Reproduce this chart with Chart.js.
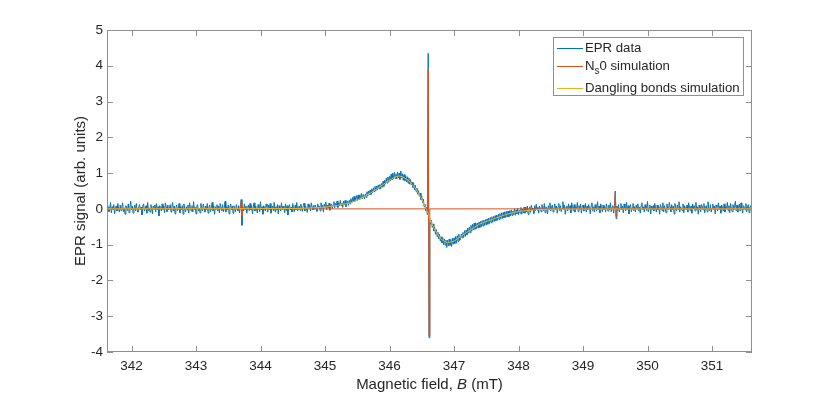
<!DOCTYPE html>
<html>
<head>
<meta charset="utf-8">
<script src="https://cdn.jsdelivr.net/npm/chart.js@4/dist/chart.umd.min.js"></script>
<style>
  html, body { margin: 0; padding: 0; background: #fff; }
  #wrap { position: relative; width: 830px; height: 397px; font-family: 'Liberation Sans', Arial, Helvetica, sans-serif; color: #262626; }
  #xTitle { position: absolute; left: 107px; width: 645px; top: 375px; text-align: center; font-size: 15px; line-height: 18px; }
  #yTitle { position: absolute; left: 80px; top: 191px; font-size: 15px; line-height: 18px; white-space: nowrap; transform: translate(-50%, -50%) rotate(-90deg); }
  #legend { position: absolute; left: 553px; top: 37px; width: 191px; height: 59px; background: #fff; border: 1px solid #8f8f8f; box-sizing: border-box; font-size: 13.2px; }
  .row { position: absolute; left: 0; height: 18px; line-height: 18px; white-space: nowrap; }
  .swatch { position: absolute; left: 3px; top: 9px; width: 26px; height: 0; border-top: 1px solid; }
  .lbl { position: absolute; left: 31px; top: 0; }
  .lbl sub { font-size: 10px; vertical-align: -4px; line-height: 0; }
</style>
</head>
<body>
<div id="wrap">
  <canvas id="chart" width="830" height="397"></canvas>
  <div id="xTitle">Magnetic field, <i>B</i> (mT)</div>
  <div id="yTitle">EPR signal (arb. units)</div>
  <div id="legend"></div>
</div>
<script>
// EPR spectrum: measured data plus two simulated components

// axis settings
const xMin = 341.62;
const xMax = 351.62;
const yMin = -4;
const yMax = 5;
const xTicks = [342, 343, 344, 345, 346, 347, 348, 349, 350, 351];
const yTicks = [-4, -3, -2, -1, 0, 1, 2, 3, 4, 5];

// legend
const seriesNames = ['EPR data', 'N_s0 simulation', 'Dangling bonds simulation'];
const seriesColors = ['#0072BD', '#D95319', '#EDB120'];

// measured spectrum, sampled every 0.0125 mT from 341.60 mT (20 points = 0.25 mT per row)
const eprStart = 341.60;
const eprStep = 0.0125;
const eprSignal = [
  0.09, -0.03, 0.14, 0.05, -0.08, 0.02, 0.18, -0.11, 0.06, -0.02, 0.12, -0.14, 0.03, 0.08, -0.06, 0.15, 0.00, -0.09, 0.11, -0.05,
  0.05, 0.17, -0.08, 0.03, -0.15, 0.09, 0.02, -0.05, 0.14, -0.11, 0.06, 0.21, -0.03, 0.08, -0.12, 0.00, 0.11, -0.06, 0.15, -0.02,
  -0.09, 0.06, 0.12, -0.03, 0.05, -0.17, 0.08, 0.14, -0.06, 0.02, 0.09, -0.12, 0.18, -0.05, 0.03, -0.09, 0.12, 0.06, -0.14, 0.08,
  0.00, 0.11, -0.08, 0.15, -0.03, 0.06, -0.20, 0.09, 0.03, -0.06, 0.14, -0.02, 0.08, -0.11, 0.17, 0.05, -0.08, 0.11, -0.03, 0.02,
  0.12, -0.09, 0.05, 0.18, -0.06, 0.08, -0.14, 0.03, 0.11, -0.05, 0.00, 0.15, -0.11, 0.06, -0.02, 0.09, -0.15, 0.14, 0.02, -0.08,
  0.06, -0.03, 0.11, -0.12, 0.17, 0.03, -0.06, 0.09, -0.09, 0.20, -0.02, 0.05, -0.14, 0.08, 0.12, -0.05, 0.02, -0.11, 0.15, 0.03,
  -0.06, 0.14, 0.02, -0.09, 0.08, -0.03, 0.15, -0.12, 0.05, 0.11, -0.08, 0.03, 0.18, -0.05, 0.09, -0.15, 0.06, 0.00, 0.12, -0.06,
  0.08, -0.11, 0.15, 0.03, -0.05, 0.12, -0.08, 0.02, 0.21, -0.09, 0.06, -0.03, 0.11, -0.14, 0.05, 0.14, -0.02, 0.08, -0.12, 0.09,
  0.03, -0.08, 0.12, 0.02, -0.05, 0.09, -0.11, 0.06, 0.26, -0.46, 0.05, -0.06, 0.14, -0.02, 0.08, -0.12, 0.03, 0.11, -0.05, 0.15,
  -0.03, 0.09, -0.14, 0.05, 0.17, -0.06, 0.08, 0.00, -0.11, 0.12, 0.03, -0.08, 0.20, -0.03, 0.06, -0.15, 0.09, 0.02, -0.06, 0.14,
  0.05, -0.09, 0.11, -0.02, 0.15, -0.12, 0.03, 0.08, -0.05, 0.18, -0.08, 0.06, -0.03, 0.12, -0.14, 0.09, 0.00, -0.06, 0.17, -0.02,
  0.08, 0.02, -0.11, 0.14, -0.05, 0.09, -0.17, 0.06, 0.12, -0.03, 0.05, -0.09, 0.15, 0.00, -0.08, 0.11, -0.02, 0.18, -0.06, 0.03,
  0.08, -0.04, 0.13, 0.04, -0.07, 0.10, 0.16, -0.06, 0.07, 0.01, -0.10, 0.14, 0.02, 0.11, -0.06, 0.17, 0.05, -0.03, 0.10, -0.01,
  0.11, -0.01, -0.07, 0.14, 0.04, 0.08, -0.06, 0.17, 0.02, 0.10, -0.09, 0.13, 0.05, 0.19, -0.03, 0.11, 0.02, 0.16, -0.04, 0.10,
  0.14, 0.01, 0.11, 0.20, 0.03, 0.15, 0.07, 0.22, 0.04, 0.16, 0.08, 0.24, 0.09, 0.16, 0.04, 0.22, 0.11, 0.24, 0.06, 0.18,
  0.22, 0.10, 0.24, 0.14, 0.28, 0.17, 0.32, 0.19, 0.35, 0.21, 0.31, 0.37, 0.23, 0.39, 0.26, 0.39, 0.27, 0.43, 0.29, 0.40,
  0.39, 0.28, 0.42, 0.32, 0.48, 0.36, 0.50, 0.40, 0.53, 0.40, 0.56, 0.45, 0.59, 0.48, 0.63, 0.50, 0.64, 0.53, 0.67, 0.56,
  0.68, 0.56, 0.71, 0.60, 0.77, 0.63, 0.80, 0.69, 0.86, 0.72, 0.89, 0.75, 0.91, 0.78, 0.97, 0.81, 1.00, 0.83, 1.02, 0.85,
  0.98, 0.84, 1.03, 0.86, 1.00, 0.82, 1.06, 0.87, 0.98, 0.80, 0.96, 0.79, 0.93, 0.75, 0.90, 0.72, 0.87, 0.69, 0.82, 0.67,
  0.75, 0.60, 0.71, 0.53, 0.66, 0.48, 0.58, 0.41, 0.51, 0.35, 0.44, 0.26, 0.36, 0.17, 0.27, 0.06, 0.13, -0.06, 0.04, -0.16,
  4.35, -3.60, -0.39, -0.43, -0.31, -0.52, -0.42, -0.62, -0.51, -0.71, -0.58, -0.77, -0.65, -0.84, -0.71, -0.90, -0.78, -0.95, -0.81, -1.00,
  -0.84, -1.01, -0.87, -1.08, -0.88, -1.03, -0.84, -1.02, -0.86, -1.05, -0.82, -0.99, -0.81, -0.97, -0.77, -0.96, -0.75, -0.91, -0.71, -0.88,
  -0.86, -0.70, -0.81, -0.66, -0.80, -0.61, -0.77, -0.59, -0.73, -0.54, -0.68, -0.51, -0.67, -0.46, -0.62, -0.43, -0.59, -0.40, -0.57, -0.39,
  -0.55, -0.40, -0.54, -0.37, -0.52, -0.35, -0.50, -0.33, -0.48, -0.31, -0.46, -0.30, -0.45, -0.28, -0.43, -0.26, -0.41, -0.24, -0.39, -0.22,
  -0.37, -0.21, -0.35, -0.19, -0.33, -0.17, -0.32, -0.15, -0.30, -0.13, -0.28, -0.11, -0.27, -0.10, -0.25, -0.08, -0.24, -0.07, -0.23, -0.06,
  -0.22, -0.05, -0.20, -0.03, -0.19, -0.06, -0.16, 0.01, -0.18, -0.03, -0.14, 0.02, -0.16, -0.04, -0.12, 0.04, -0.15, -0.01, -0.11, 0.05,
  -0.12, 0.05, -0.09, 0.08, -0.16, 0.00, 0.06, -0.10, 0.10, -0.04, 0.02, -0.13, 0.09, -0.06, 0.13, -0.03, 0.05, -0.12, 0.08, 0.00,
  -0.08, 0.12, 0.02, -0.05, 0.15, -0.11, 0.06, 0.03, -0.14, 0.09, -0.02, 0.17, -0.06, 0.05, 0.11, -0.09, 0.00, 0.14, -0.03, 0.08,
  -0.12, 0.06, 0.15, -0.05, 0.09, -0.08, 0.02, 0.20, -0.03, 0.11, -0.15, 0.05, 0.08, -0.06, 0.14, -0.02, 0.09, -0.11, 0.17, 0.03,
  -0.05, 0.12, -0.09, 0.06, 0.00, 0.18, -0.08, 0.09, -0.03, 0.14, -0.12, 0.05, 0.11, -0.06, 0.02, 0.15, -0.09, 0.08, -0.02, 0.12,
  0.03, -0.14, 0.09, 0.17, -0.05, 0.06, -0.09, 0.12, 0.00, -0.06, 0.20, -0.03, 0.08, -0.11, 0.14, 0.05, -0.08, 0.11, -0.02, 0.06,
  -0.09, 0.14, 0.02, -0.06, 0.11, -0.03, 0.17, -0.08, 0.05, 0.09, -0.12, 0.06, 0.50, -0.27, 0.08, -0.05, 0.12, -0.09, 0.03, 0.15,
  -0.03, 0.08, -0.11, 0.14, 0.02, -0.06, 0.18, -0.02, 0.09, -0.14, 0.05, 0.12, -0.08, 0.03, 0.15, -0.05, 0.06, -0.09, 0.11, 0.00,
  0.14, -0.06, 0.05, -0.12, 0.09, 0.17, -0.03, 0.06, -0.09, 0.12, 0.02, -0.05, 0.21, -0.08, 0.03, 0.11, -0.14, 0.08, -0.02, 0.09,
  -0.06, 0.15, 0.03, -0.09, 0.11, -0.02, 0.06, -0.15, 0.12, 0.05, -0.05, 0.17, -0.08, 0.09, 0.00, -0.11, 0.14, 0.02, -0.03, 0.18,
  0.05, -0.08, 0.12, -0.03, 0.08, -0.14, 0.15, 0.03, -0.06, 0.11, -0.02, 0.20, -0.09, 0.06, 0.02, -0.05, 0.14, -0.11, 0.09, 0.03,
  -0.02, 0.11, -0.09, 0.17, 0.05, -0.05, 0.08, -0.12, 0.14, 0.00, 0.09, -0.06, 0.18, -0.03, 0.06, -0.15, 0.11, 0.02, -0.08, 0.12,
  0.06, -0.03, 0.15, -0.11, 0.05, 0.09, -0.08, 0.20, 0.00, -0.05, 0.12, -0.09, 0.03, 0.14, -0.02, 0.08, -0.14, 0.11, 0.05, -0.06,
  0.17, -0.02, 0.08, -0.12, 0.11, 0.03, -0.06, 0.14, -0.09, 0.06, 0.00, 0.18, -0.05, 0.09, -0.11, 0.15, 0.02, -0.08, 0.12, -0.03,
  0.08, 0.21, -0.05, 0.11, -0.09, 0.03, 0.14, -0.06, 0.17, 0.02, -0.12, 0.09, 0.05, -0.03, 0.15, -0.08, 0.06, 0.12, -0.11, 0.05,
  0.09, -0.05, 0.14
];

// N_s0 simulation (flat, with three hyperfine lines)
const ns0Field  = [341.60, 343.6875, 343.70, 343.7125, 343.725, 346.5875, 346.60, 346.6125, 346.625, 349.4875, 349.50, 349.5125, 349.525, 351.65];
const ns0Signal = [0, 0, 0.18, -0.22, 0, 0, 3.90, -3.55, 0, 0, 0.45, -0.20, 0, 0];

// dangling bonds simulation (broad derivative line)
const dbField  = [341.60, 344.6, 344.8, 345.0, 345.2, 345.4, 345.6, 345.8, 345.9, 346.0, 346.1, 346.15, 346.2, 346.3, 346.4, 346.5, 346.55, 346.6, 346.65, 346.7, 346.8, 346.9, 347.0, 347.1, 347.2, 347.4, 347.6, 347.8, 348.0, 348.3, 348.6, 351.65];
const dbSignal = [0, 0.01, 0.03, 0.05, 0.10, 0.17, 0.33, 0.55, 0.68, 0.80, 0.90, 0.92, 0.90, 0.79, 0.58, 0.28, 0.07, -0.12, -0.38, -0.58, -0.85, -0.95, -0.90, -0.78, -0.65, -0.42, -0.29, -0.16, -0.07, -0.02, -0.005, 0];

const axisColor = '#8f8f8f';
const textColor = '#262626';
const fontFamily = "'Liberation Sans', Arial, Helvetica, sans-serif";

const eprPoints = eprSignal.map((v, i) => ({ x: eprStart + i * eprStep, y: v }));
const ns0Points = ns0Field.map((b, i) => ({ x: b, y: ns0Signal[i] }));
const dbPoints = dbField.map((b, i) => ({ x: b, y: dbSignal[i] }));

// MATLAB-like box with inward ticks on all four sides
const boxTicks = {
    id: 'boxTicks',
    afterDatasetsDraw(chart) {
        const { ctx, chartArea: a, scales: { x, y } } = chart;
        const len = 6;
        ctx.save();
        ctx.strokeStyle = axisColor;
        ctx.lineWidth = 1;
        ctx.beginPath();
        xTicks.forEach(v => {
            const px = Math.round(x.getPixelForValue(v)) + 0.5;
            ctx.moveTo(px, a.bottom);
            ctx.lineTo(px, a.bottom - len);
            ctx.moveTo(px, a.top);
            ctx.lineTo(px, a.top + len);
        });
        yTicks.forEach(v => {
            const py = Math.round(y.getPixelForValue(v)) + 0.5;
            ctx.moveTo(a.left, py);
            ctx.lineTo(a.left + len, py);
            ctx.moveTo(a.right, py);
            ctx.lineTo(a.right - len, py);
        });
        ctx.stroke();
        ctx.strokeRect(a.left + 0.5, a.top + 0.5, a.right - a.left - 1, a.bottom - a.top - 1);
        ctx.restore();
    }
};

const chart = new Chart(document.getElementById('chart').getContext('2d'), {
    type: 'line',
    data: {
        datasets: [
            { label: seriesNames[0], data: eprPoints, borderColor: seriesColors[0], borderWidth: 1, pointRadius: 0, tension: 0, fill: false, order: 3 },
            { label: seriesNames[1], data: ns0Points, borderColor: seriesColors[1], borderWidth: 1, pointRadius: 0, tension: 0, fill: false, order: 2 },
            { label: seriesNames[2], data: dbPoints, borderColor: seriesColors[2], borderWidth: 1, pointRadius: 0, tension: 0, fill: false, order: 1 }
        ]
    },
    options: {
        responsive: false,
        maintainAspectRatio: false,
        animation: false,
        events: [],
        layout: { padding: { top: 30, right: 78, left: 0, bottom: 0 } },
        plugins: {
            legend: { display: false },
            tooltip: { enabled: false }
        },
        scales: {
            x: {
                type: 'linear',
                min: xMin,
                max: xMax,
                grid: { display: false, drawTicks: false },
                border: { display: false },
                afterBuildTicks: s => { s.ticks = xTicks.map(v => ({ value: v })); },
                afterFit: s => { s.height = 45; },
                ticks: {
                    padding: 6,
                    maxRotation: 0,
                    color: textColor,
                    font: { family: fontFamily, size: 13.5 },
                    callback: v => String(v)
                }
            },
            y: {
                type: 'linear',
                min: yMin,
                max: yMax,
                grid: { display: false, drawTicks: false },
                border: { display: false },
                afterBuildTicks: s => { s.ticks = yTicks.map(v => ({ value: v })); },
                afterFit: s => { s.width = 107; },
                ticks: {
                    padding: 4,
                    color: textColor,
                    font: { family: fontFamily, size: 13.5 },
                    callback: v => String(v)
                }
            }
        }
    },
    plugins: [boxTicks]
});

// legend with subscript support
const legend = document.getElementById('legend');
const rowTops = [1, 19, 41];
seriesNames.forEach((name, i) => {
    const row = document.createElement('div');
    row.className = 'row';
    row.style.top = rowTops[i] + 'px';
    const sw = document.createElement('div');
    sw.className = 'swatch';
    sw.style.borderColor = seriesColors[i];
    const lbl = document.createElement('div');
    lbl.className = 'lbl';
    lbl.innerHTML = name.replace(/_(\w)/, '<sub>$1</sub>');
    row.appendChild(sw);
    row.appendChild(lbl);
    legend.appendChild(row);
});
</script>
</body>
</html>
